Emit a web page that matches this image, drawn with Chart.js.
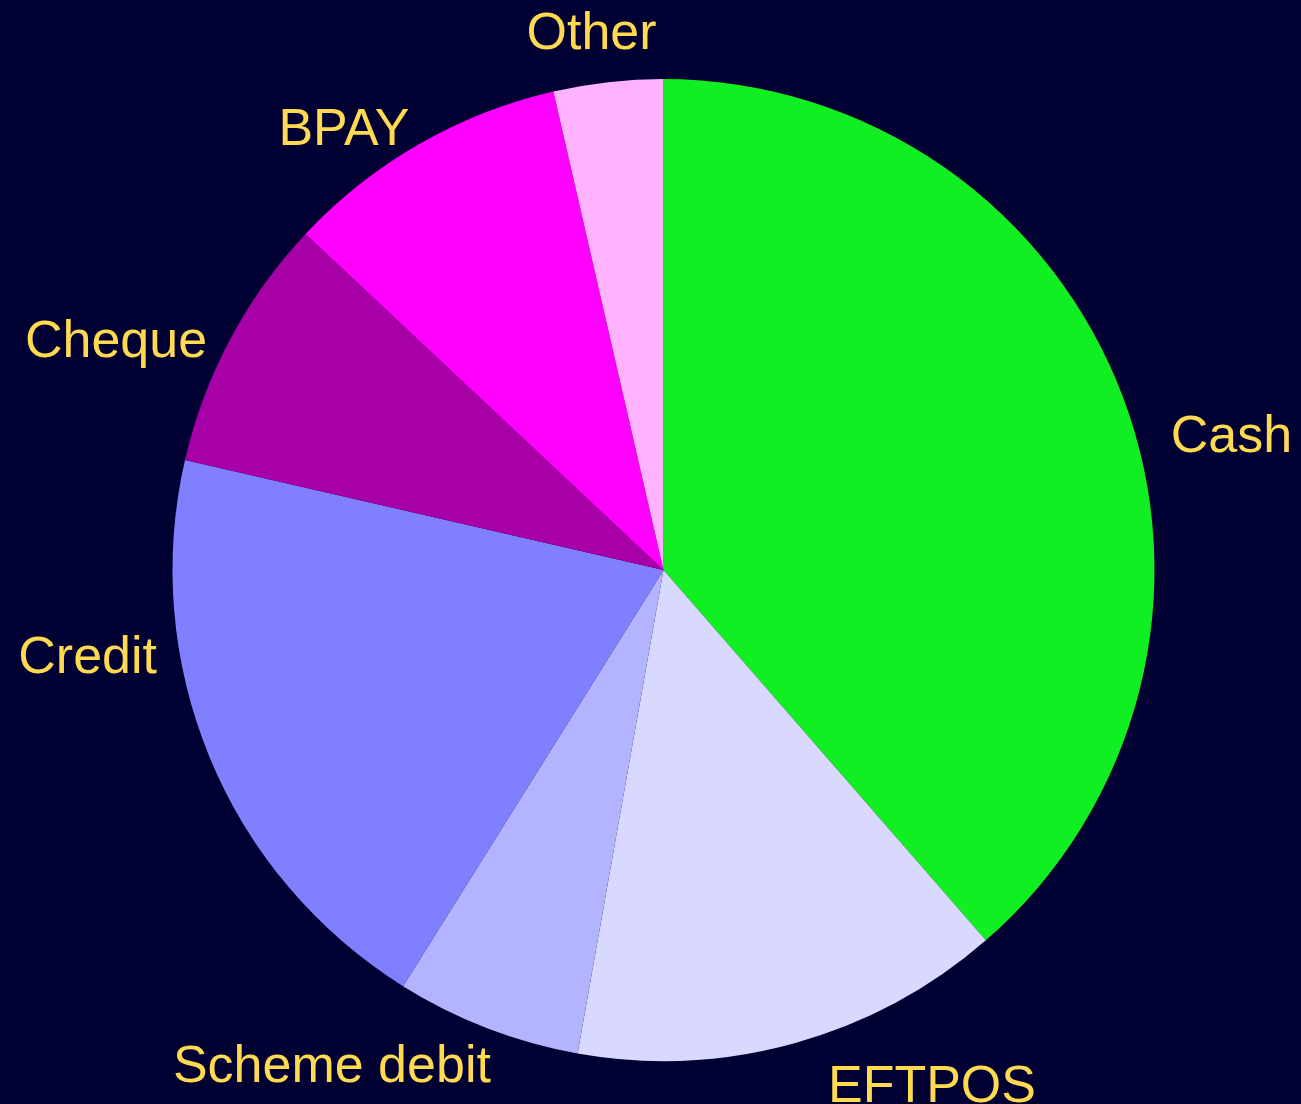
<!DOCTYPE html>
<html>
<head>
<meta charset="utf-8">
<script src="https://cdn.jsdelivr.net/npm/chart.js@4.4.1/dist/chart.umd.min.js"></script>
<style>
    html, body { margin: 0; padding: 0; background: #000033; }
    canvas { display: block; }
</style>
</head>
<body>
<canvas id="paymentsChart" width="1301" height="1104"></canvas>
<script>
// Доли платежей по способам оплаты, % (по часовой стрелке от верха)
const categories = ['Cash', 'EFTPOS', 'Scheme debit', 'Credit', 'Cheque', 'BPAY', 'Other'];
const shares = [38.6, 14.2, 6.1, 19.7, 8.4, 9.4, 3.6];
const sliceColours = ['#11EE22', '#D9D9FF', '#B3B3FF', '#8080FF', '#A600A6', '#FF00FF', '#FFB3FF'];

// Подписи снаружи круга: сдвиг угла от середины сектора (град.) и расстояние в радиусах
const labelNudge = [6.9, -12.2, 12.9, 14.3, -5.0, -5.8, -1.1];
const labelDistance = [1.19, 1.177, 1.209, 1.185, 1.212, 1.116, 1.111];

const outsideLabels = {
    id: 'outsideLabels',
    afterDatasetsDraw(chart) {
        const ctx = chart.ctx;
        const arcs = chart.getDatasetMeta(0).data;
        ctx.save();
        ctx.font = '52px "Liberation Sans", Arial, sans-serif';
        ctx.fillStyle = '#FFD950';
        ctx.textAlign = 'center';
        ctx.textBaseline = 'alphabetic';
        arcs.forEach((arc, i) => {
            const p = arc.getProps(['x', 'y', 'startAngle', 'endAngle', 'outerRadius'], true);
            const mid = (p.startAngle + p.endAngle) / 2 + labelNudge[i] * Math.PI / 180;
            const r = p.outerRadius * labelDistance[i];
            // базовая линия чуть ниже центра заглавных букв
            ctx.fillText(chart.data.labels[i], p.x + Math.cos(mid) * r, p.y + Math.sin(mid) * r + 20);
        });
        ctx.restore();
    }
};

const chartCtx = document.getElementById('paymentsChart').getContext('2d');
new Chart(chartCtx, {
    type: 'pie',
    data: {
        labels: categories,
        datasets: [{
            data: shares,
            backgroundColor: sliceColours,
            borderWidth: 0
        }]
    },
    options: {
        responsive: false,
        animation: false,
        layout: {
            padding: { top: 79, bottom: 43, left: 172.5, right: 146.5 }
        },
        plugins: {
            legend: { display: false },
            tooltip: { enabled: false }
        }
    },
    plugins: [outsideLabels]
});
</script>
</body>
</html>
